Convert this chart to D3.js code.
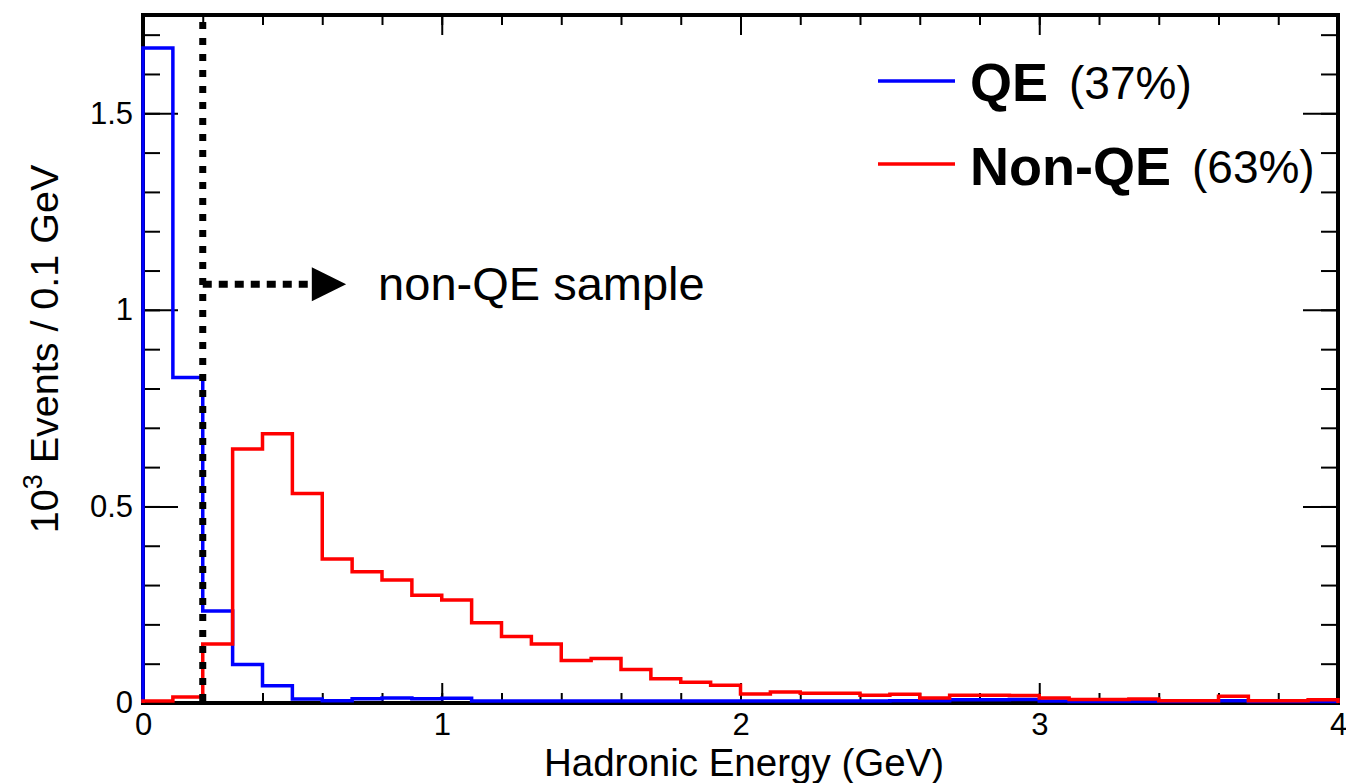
<!DOCTYPE html>
<html>
<head>
<meta charset="utf-8">
<script src="https://cdn.jsdelivr.net/npm/d3@7"></script>
<style>
  html, body { margin: 0; padding: 0; background: #fff; }
  svg { display: block; font-family: "Liberation Sans", Arial, Helvetica, sans-serif; }
</style>
</head>
<body>
<svg id="chart" width="1346" height="783"></svg>
<script>
// Hadronic energy distribution, 0.1 GeV bins from 0 to 4 GeV (units of 10^3 events)
const binEdgesStart = 0;
const binWidth = 0.1;

const qeCounts = [
  1.666, 0.828, 0.234, 0.098, 0.044, 0.010, 0.006, 0.011, 0.013, 0.011,
  0.012, 0.005, 0.005, 0.005, 0.005, 0.005, 0.005, 0.005, 0.005, 0.005,
  0.005, 0.005, 0.005, 0.005, 0.005, 0.006, 0.006, 0.008, 0.008, 0.009,
  0.005, 0.004, 0.004, 0.004, 0.004, 0.004, 0.006, 0.004, 0.004, 0.004
];

const nonQeCounts = [
  0.005, 0.015, 0.150, 0.646, 0.685, 0.533, 0.366, 0.334, 0.313, 0.274,
  0.262, 0.204, 0.169, 0.150, 0.108, 0.113, 0.085, 0.062, 0.053, 0.045,
  0.023, 0.028, 0.025, 0.025, 0.020, 0.022, 0.013, 0.020, 0.020, 0.019,
  0.013, 0.009, 0.009, 0.010, 0.006, 0.006, 0.017, 0.006, 0.006, 0.008
];

const xMajorTicks = [0, 1, 2, 3, 4];
const yMajorTicks = [0, 0.5, 1, 1.5];

const legendEntries = [
  { name: "QE", share: "(37%)", color: "#0000ff" },
  { name: "Non-QE", share: "(63%)", color: "#ff0000" }
];

const cutValue = 0.2;          // non-QE selection threshold (GeV)
const xTitle = "Hadronic Energy (GeV)";
const sampleLabel = "non-QE sample";

// ---------------------------------------------------------------------------
const svg = d3.select("#chart");
const frame = { left: 143, right: 1338, top: 15, bottom: 703 };

const x = d3.scaleLinear().domain([0, 4]).range([frame.left, frame.right]);
const y = d3.scaleLinear().domain([0, 1.75]).range([frame.bottom, frame.top]);

const xMinor = d3.range(0, 4.0001, 0.2).map(v => +v.toFixed(1));
const yMinor = d3.range(0, 1.7501, 0.1).map(v => +v.toFixed(1));

// frame box
svg.append("rect")
  .attr("x", frame.left).attr("y", frame.top)
  .attr("width", frame.right - frame.left)
  .attr("height", frame.bottom - frame.top)
  .attr("fill", "none").attr("stroke", "#000").attr("stroke-width", 4);

// tick marks on all four sides, pointing inward
function styleAxis(g, showLabels) {
  g.select(".domain").remove();
  g.selectAll(".tick line").attr("stroke", "#000").attr("stroke-width", 2);
  g.selectAll(".tick text")
    .attr("fill", "#000")
    .style("font-size", "31px")
    .style("display", showLabels ? null : "none");
}

const fmt = d3.format("~g");

svg.append("g").attr("transform", `translate(0,${frame.bottom})`)
  .call(d3.axisBottom(x).tickValues(xMinor).tickSize(-10).tickFormat(""))
  .call(g => styleAxis(g, false));
svg.append("g").attr("transform", `translate(0,${frame.bottom})`)
  .call(d3.axisBottom(x).tickValues(xMajorTicks).tickSize(-20).tickPadding(10).tickFormat(fmt))
  .call(g => styleAxis(g, true));
svg.append("g").attr("transform", `translate(0,${frame.top})`)
  .call(d3.axisTop(x).tickValues(xMinor).tickSize(-10).tickFormat(""))
  .call(g => styleAxis(g, false));
svg.append("g").attr("transform", `translate(0,${frame.top})`)
  .call(d3.axisTop(x).tickValues(xMajorTicks).tickSize(-20).tickFormat(""))
  .call(g => styleAxis(g, false));

svg.append("g").attr("transform", `translate(${frame.left},0)`)
  .call(d3.axisLeft(y).tickValues(yMinor).tickSize(-17).tickFormat(""))
  .call(g => styleAxis(g, false));
svg.append("g").attr("transform", `translate(${frame.left},0)`)
  .call(d3.axisLeft(y).tickValues(yMajorTicks).tickSize(-35).tickPadding(10).tickFormat(fmt))
  .call(g => styleAxis(g, true));
svg.append("g").attr("transform", `translate(${frame.right},0)`)
  .call(d3.axisRight(y).tickValues(yMinor).tickSize(-17).tickFormat(""))
  .call(g => styleAxis(g, false));
svg.append("g").attr("transform", `translate(${frame.right},0)`)
  .call(d3.axisRight(y).tickValues(yMajorTicks).tickSize(-35).tickFormat(""))
  .call(g => styleAxis(g, false));

// step outline for a binned histogram
function stepPoints(counts) {
  const pts = [[binEdgesStart, 0]];
  counts.forEach((c, i) => {
    const lo = binEdgesStart + i * binWidth;
    pts.push([lo, c], [lo + binWidth, c]);
  });
  pts.push([binEdgesStart + counts.length * binWidth, 0]);
  return pts;
}

const line = d3.line().x(d => x(d[0])).y(d => y(d[1]));

[qeCounts, nonQeCounts].forEach((counts, i) => {
  svg.append("path")
    .attr("d", line(stepPoints(counts)))
    .attr("fill", "none")
    .attr("stroke", legendEntries[i].color)
    .attr("stroke-width", 3.5)
    .attr("stroke-linejoin", "miter");
});

// selection cut and arrow
svg.append("line")
  .attr("x1", x(cutValue)).attr("x2", x(cutValue))
  .attr("y1", 22).attr("y2", frame.bottom)
  .attr("stroke", "#000").attr("stroke-width", 7)
  .attr("stroke-dasharray", "7,9");

const arrowY = y(1.065);
const arrowEnd = x(0.565);
const arrowTip = x(0.68);
svg.append("line")
  .attr("x1", x(cutValue)).attr("x2", arrowEnd)
  .attr("y1", arrowY).attr("y2", arrowY)
  .attr("stroke", "#000").attr("stroke-width", 7)
  .attr("stroke-dasharray", "9,7");
svg.append("path")
  .attr("d", `M${arrowEnd},${arrowY - 17}L${arrowTip},${arrowY}L${arrowEnd},${arrowY + 17}Z`)
  .attr("fill", "#000");

svg.append("text")
  .attr("x", x(0.787)).attr("y", arrowY + 16)
  .style("font-size", "47px").attr("fill", "#000")
  .text(sampleLabel);

// axis titles
svg.append("text")
  .attr("x", 744).attr("y", 776)
  .attr("text-anchor", "middle")
  .style("font-size", "38.5px")
  .text(xTitle);

const yTitle = svg.append("text")
  .attr("transform", "translate(58,349) rotate(-90)")
  .attr("text-anchor", "middle")
  .style("font-size", "39.5px");
yTitle.append("tspan").text("10");
yTitle.append("tspan").attr("dy", -16).style("font-size", "27px").text("3");
yTitle.append("tspan").attr("dy", 16).text(" Events / 0.1 GeV");

// legend
const legendRows = [{ ly: 81, base: 101 }, { ly: 164, base: 185 }];
legendEntries.forEach((e, i) => {
  const r = legendRows[i];
  svg.append("line")
    .attr("x1", 878).attr("x2", 955)
    .attr("y1", r.ly).attr("y2", r.ly)
    .attr("stroke", e.color).attr("stroke-width", 3.5);
  const t = svg.append("text")
    .attr("x", 970).attr("y", r.base)
    .style("font-size", "54px").style("font-weight", "bold")
    .text(e.name);
  const w = t.node().getComputedTextLength();
  svg.append("text")
    .attr("x", 970 + w + 21).attr("y", r.base - 2)
    .style("font-size", "46px")
    .text(e.share);
});
</script>
</body>
</html>
